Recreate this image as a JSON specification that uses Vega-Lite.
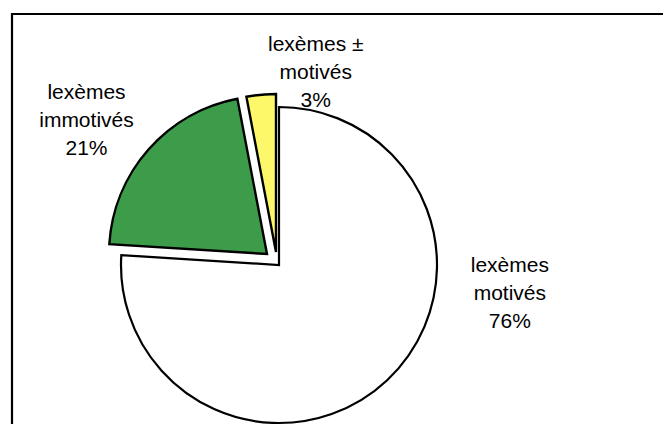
{
  "$schema": "https://vega.github.io/schema/vega-lite/v6.json",
  "width": 660,
  "height": 420,
  "autosize": {"type": "none"},
  "padding": {"left": 12, "top": 14, "right": 0, "bottom": 0},
  "background": "white",
  "config": {
    "view": {"stroke": null},
    "text": {"font": "Liberation Sans", "fontSize": 21, "lineHeight": 28, "color": "black"}
  },
  "data": {
    "values": [
      {"cat": "lexèmes motivés", "pct": 76, "label": "lexèmes\nmotivés\n76%"},
      {"cat": "lexèmes immotivés", "pct": 21, "label": "lexèmes\nimmotivés\n21%"},
      {"cat": "lexèmes ± motivés", "pct": 3, "label": "lexèmes ±\nmotivés\n3%"}
    ]
  },
  "transform": [
    {"stack": "pct", "groupby": [], "sort": [{"field": "pct", "order": "descending"}], "as": ["start", "end"]},
    {"calculate": "(datum.start + datum.end) / 2", "as": "mid"}
  ],
  "layer": [
    {
      "data": {"values": [{"frame": 1}]},
      "transform": [],
      "mark": {"type": "rect", "fill": null, "stroke": "black", "strokeWidth": 2.2},
      "encoding": {}
    },
    {
      "transform": [{"filter": "datum.cat === 'lexèmes motivés'"}],
      "mark": {"type": "arc", "x": 267, "y": 251, "radius": 158, "fill": "white", "stroke": "black", "strokeWidth": 2.2},
      "encoding": {
        "theta": {"field": "start", "type": "quantitative", "stack": null, "scale": {"domain": [0, 100]}},
        "theta2": {"field": "end"}
      }
    },
    {
      "transform": [{"filter": "datum.cat === 'lexèmes immotivés'"}],
      "mark": {"type": "arc", "x": 255, "y": 240, "radius": 158, "fill": "#3c9c4a", "stroke": "black", "strokeWidth": 2.4},
      "encoding": {
        "theta": {"field": "start", "type": "quantitative", "stack": null, "scale": {"domain": [0, 100]}},
        "theta2": {"field": "end"}
      }
    },
    {
      "transform": [{"filter": "datum.cat === 'lexèmes ± motivés'"}],
      "mark": {"type": "arc", "x": 264, "y": 238, "radius": 158, "fill": "#fdf86a", "stroke": "black", "strokeWidth": 2.4},
      "encoding": {
        "theta": {"field": "start", "type": "quantitative", "stack": null, "scale": {"domain": [0, 100]}},
        "theta2": {"field": "end"}
      }
    },
    {
      "transform": [{"filter": "datum.cat === 'lexèmes motivés'"}],
      "mark": {"type": "text", "x": 267, "y": 250, "radius": 178, "dx": 109, "dy": -122, "lineBreak": "\n", "align": "center", "baseline": "alphabetic"},
      "encoding": {
        "theta": {"field": "mid", "type": "quantitative", "stack": null, "scale": {"domain": [0, 100]}},
        "text": {"field": "label", "type": "nominal"}
      }
    },
    {
      "transform": [{"filter": "datum.cat === 'lexèmes immotivés'"}],
      "mark": {"type": "text", "x": 267, "y": 250, "radius": 250, "dx": -5, "dy": 0, "lineBreak": "\n", "align": "center", "baseline": "alphabetic"},
      "encoding": {
        "theta": {"field": "mid", "type": "quantitative", "stack": null, "scale": {"domain": [0, 100]}},
        "text": {"field": "label", "type": "nominal"}
      }
    },
    {
      "transform": [{"filter": "datum.cat === 'lexèmes ± motivés'"}],
      "mark": {"type": "text", "x": 267, "y": 250, "radius": 215, "dx": 57, "dy": 1, "lineBreak": "\n", "align": "center", "baseline": "alphabetic"},
      "encoding": {
        "theta": {"field": "mid", "type": "quantitative", "stack": null, "scale": {"domain": [0, 100]}},
        "text": {"field": "label", "type": "nominal"}
      }
    }
  ]
}
